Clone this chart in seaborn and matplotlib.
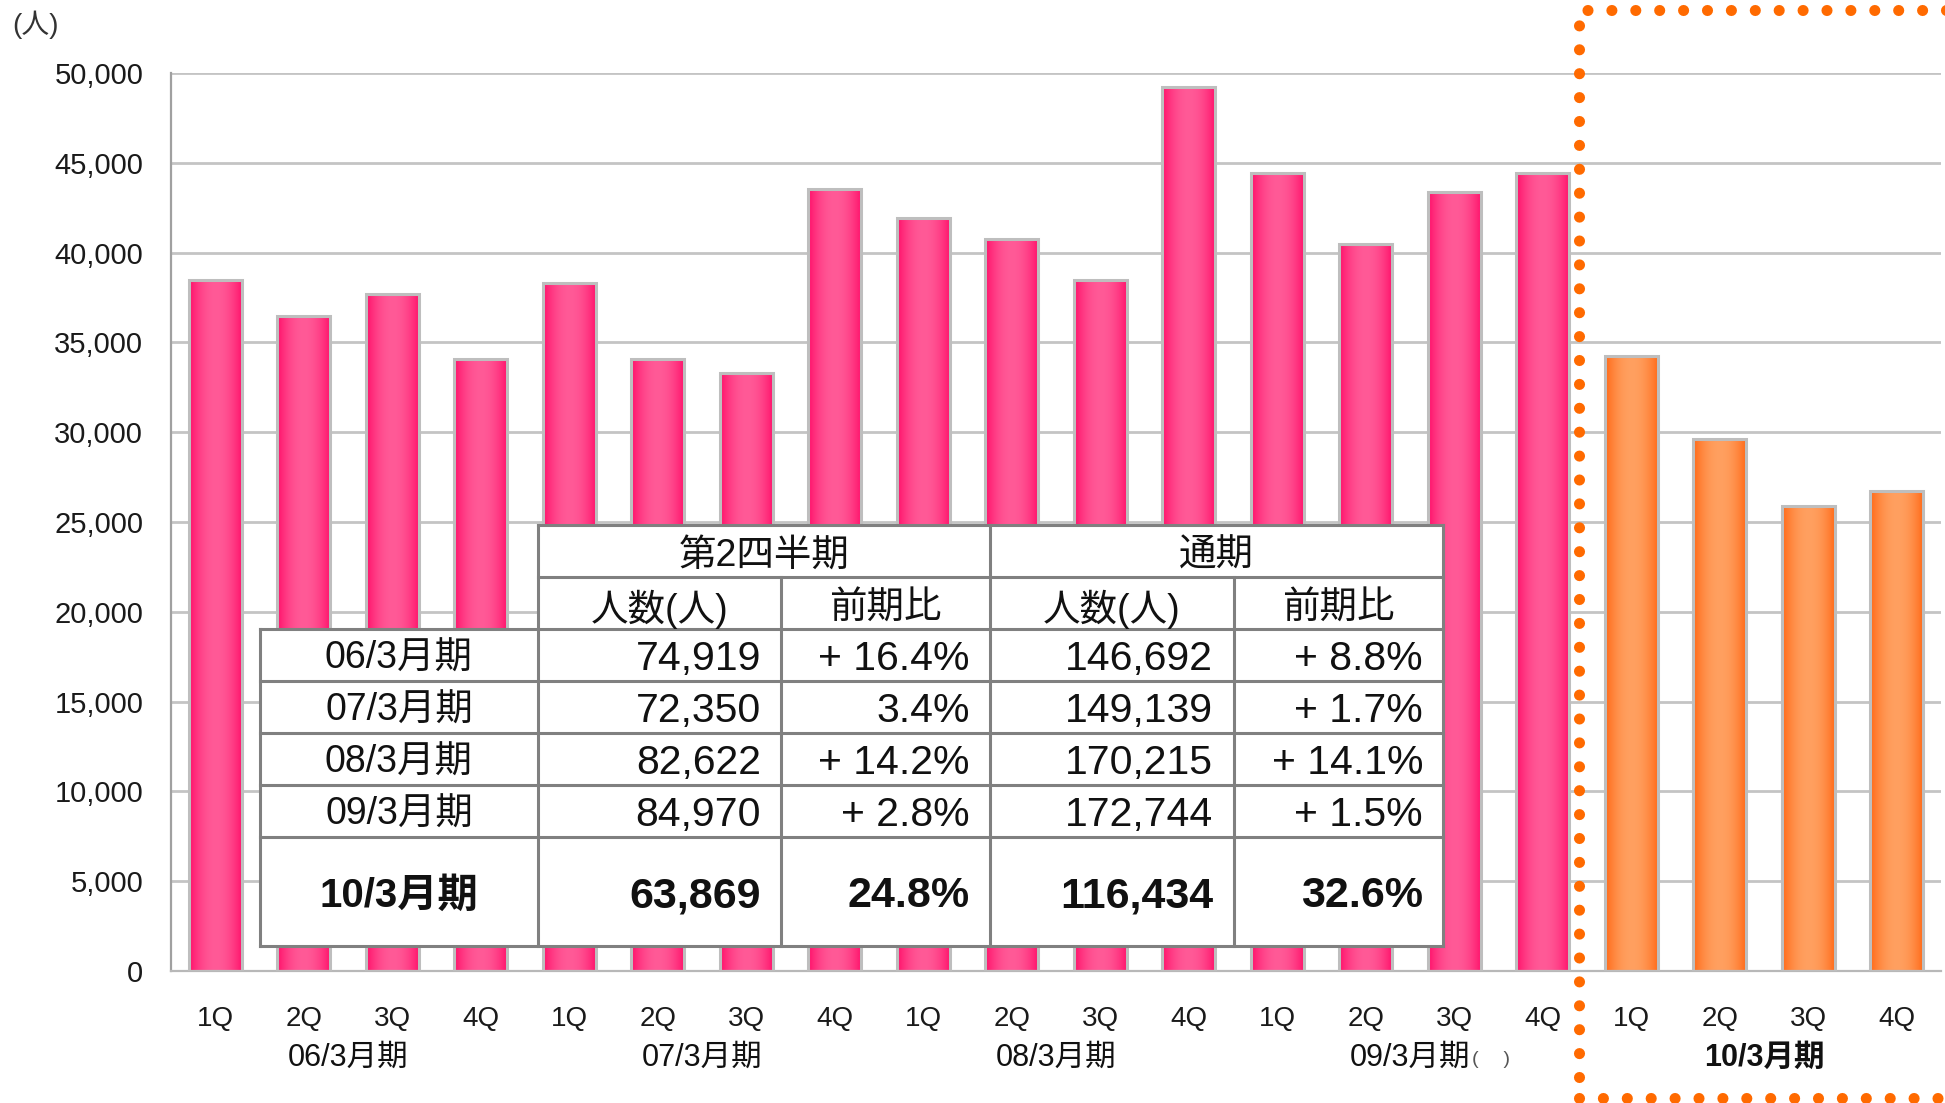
import numpy as np
import pandas as pd
import matplotlib
matplotlib.use("Agg")
import matplotlib.pyplot as plt
from matplotlib.patches import Rectangle
from matplotlib.lines import Line2D
from matplotlib.colors import to_rgb
from matplotlib.transforms import blended_transform_factory
import seaborn as sns

# ---------------- data ----------------
periods = ["06/3月期", "07/3月期", "08/3月期", "09/3月期", "10/3月期"]
quarters = ["1Q", "2Q", "3Q", "4Q"]
visitors_06 = [38500, 36450, 37700, 34100]
visitors_07 = [38300, 34050, 33300, 43550]
visitors_08 = [41900, 40750, 38450, 49200]
visitors_09 = [44450, 40500, 43350, 44450]
visitors_10 = [34250, 29600, 25900, 26750]

table_rows = ["06/3月期", "07/3月期", "08/3月期", "09/3月期", "10/3月期"]
q2_counts = ["74,919", "72,350", "82,622", "84,970", "63,869"]
q2_yoy = ["+ 16.4%", "3.4%", "+ 14.2%", "+ 2.8%", "24.8%"]
fy_counts = ["146,692", "149,139", "170,215", "172,744", "116,434"]
fy_yoy = ["+ 8.8%", "+ 1.7%", "+ 14.1%", "+ 1.5%", "32.6%"]

all_values = [visitors_06, visitors_07, visitors_08, visitors_09, visitors_10]
rows = []
for p, vals in zip(periods, all_values):
    for q, v in zip(quarters, vals):
        rows.append({"key": f"{p}_{q}", "period": p, "quarter": q, "visitors": v,
                     "kind": "current" if p == periods[-1] else "past"})
df = pd.DataFrame(rows)

# ---------------- style ----------------
sns.set_style("white")
plt.rcParams["font.family"] = ["Liberation Sans", "Noto Sans CJK JP"]

W, H = 1945, 1103
fig = plt.figure(figsize=(W / 100, H / 100), dpi=100)
ax = fig.add_axes([171 / W, (H - 971) / H, (1941 - 171) / W, (971 - 73) / H])

pal = {"past": "#FF2A7A", "current": "#FF7A2A"}
sns.barplot(data=df, x="key", y="visitors", hue="kind", palette=pal, dodge=False,
            width=0.6, edgecolor="#BEBEBE", linewidth=2.2, legend=False, ax=ax,
            order=list(df["key"]))

# gradient fill inside bars
grad_cols = {
    "past": (to_rgb("#FF0A66"), to_rgb("#FF5A97")),
    "current": (to_rgb("#FF6410"), to_rgb("#FFA060")),
}
t = np.linspace(0, 1, 200)
prof = np.clip(np.sin(np.pi * t) ** 0.8, 0, 1)
bars = [p for p in ax.patches if isinstance(p, Rectangle) and p.get_height() > 0]
for p in bars:
    fc = p.get_facecolor()[:3]
    kind = "current" if fc[1] > 0.35 else "past"
    deep, light = grad_cols[kind]
    img = np.array([[np.array(deep) + (np.array(light) - np.array(deep)) * s for s in prof]])
    x0, y0, w, h = p.get_x(), p.get_y(), p.get_width(), p.get_height()
    ax.imshow(img, extent=[x0, x0 + w, y0, y0 + h], aspect="auto", zorder=2,
              interpolation="bilinear")
    p.set_facecolor("none")
    p.set_zorder(3)

ax.set_xlim(-0.5, 19.5)
ax.set_ylim(0, 50000)
ax.set_yticks(range(0, 50001, 5000))
ax.set_yticklabels([f"{v:,}" for v in range(0, 50001, 5000)])
ax.set_xticks(range(len(df)))
ax.set_xticklabels(df["quarter"])
ax.set_xlabel("")
ax.set_ylabel("")
ax.tick_params(axis="y", length=0, pad=20, labelsize=21, labelcolor="#1A1A1A")
ax.tick_params(axis="x", length=0, pad=25, labelsize=20, labelcolor="#1A1A1A")
ax.set_axisbelow(True)
ax.yaxis.grid(True, color="#C4C4C4", linewidth=2)
for s in ["top", "right"]:
    ax.spines[s].set_visible(False)
ax.spines["left"].set_color("#A0A0A0")
ax.spines["left"].set_linewidth(1.6)
ax.spines["bottom"].set_color("#B8B8B8")
ax.spines["bottom"].set_linewidth(1.6)

# group labels
trans = blended_transform_factory(ax.transData, fig.transFigure)
for i, p in enumerate(periods):
    xc = i * 4 + 1.5
    bold = p == periods[-1]
    ax.text(xc, (H - 1058) / H, p, transform=trans, ha="center", va="center",
            fontsize=22, fontweight="bold" if bold else "normal", color="#111111")
fig.text(1472 / W, (H - 1060) / H, "(　 )", ha="left", va="center",
         fontsize=14, color="#555555")

# unit label
fig.text(12 / W, (H - 25) / H, "(人)", ha="left", va="center", fontsize=20, color="#333333")

# ---------------- table ----------------
def fx(px):
    return px / W

def fy(py):
    return 1 - py / H

lc = "#808080"
lw = 2.2
fig.add_artist(Rectangle((fx(538), fy(629)), fx(1443) - fx(538), fy(525) - fy(629),
                         transform=fig.transFigure, facecolor="white", edgecolor="none", zorder=5))
fig.add_artist(Rectangle((fx(260), fy(946)), fx(1443) - fx(260), fy(629) - fy(946),
                         transform=fig.transFigure, facecolor="white", edgecolor="none", zorder=5))

def hline(y, x0, x1):
    fig.add_artist(Line2D([fx(x0), fx(x1)], [fy(y), fy(y)], transform=fig.transFigure,
                          color=lc, lw=lw, zorder=6, solid_capstyle="projecting"))

def vline(x, y0, y1):
    fig.add_artist(Line2D([fx(x), fx(x)], [fy(y0), fy(y1)], transform=fig.transFigure,
                          color=lc, lw=lw, zorder=6, solid_capstyle="projecting"))

hline(525, 538, 1443)
hline(577, 538, 1443)
for y in [629, 681, 733, 785, 837, 946]:
    hline(y, 260, 1443)
vline(260, 629, 946)
vline(538, 525, 946)
vline(781, 577, 946)
vline(990, 525, 946)
vline(1234, 577, 946)
vline(1443, 525, 946)

def ftext(x, y, s, ha="center", size=27, weight="normal"):
    fig.text(fx(x), fy(y), s, ha=ha, va="center", fontsize=size, fontweight=weight,
             color="#111111", zorder=7)

ftext(764, 556, "第2四半期")
ftext(1216, 556, "通期")
for cx in [660, 1112]:
    ftext(cx, 609, "人数(人)")
for cx in [885, 1338]:
    ftext(cx, 609, "前期比")

row_y = [659, 711, 763, 815, 896]
for i, y in enumerate(row_y):
    last = i == len(row_y) - 1
    wt = "bold" if last else "normal"
    lab_sz = 29 if last else 27
    num_sz = 31 if last else 29.5
    ftext(399, y, table_rows[i], size=lab_sz, weight=wt)
    ftext(761, y, q2_counts[i], ha="right", size=num_sz, weight=wt)
    ftext(970, y, q2_yoy[i], ha="right", size=num_sz, weight=wt)
    ftext(1213, y, fy_counts[i], ha="right", size=num_sz, weight=wt)
    ftext(1423, y, fy_yoy[i], ha="right", size=num_sz, weight=wt)

# ---------------- dotted highlight box ----------------
box = Rectangle((fx(1579), fy(1098)), fx(1995) - fx(1579), fy(10) - fy(1098),
                transform=fig.transFigure, fill=False, edgecolor="#FF6A00",
                linewidth=8.0, linestyle=(0, (0.001, 2.15)), zorder=8)
box.set_capstyle("round")
fig.add_artist(box)

fig.savefig("out.png", dpi=100)
